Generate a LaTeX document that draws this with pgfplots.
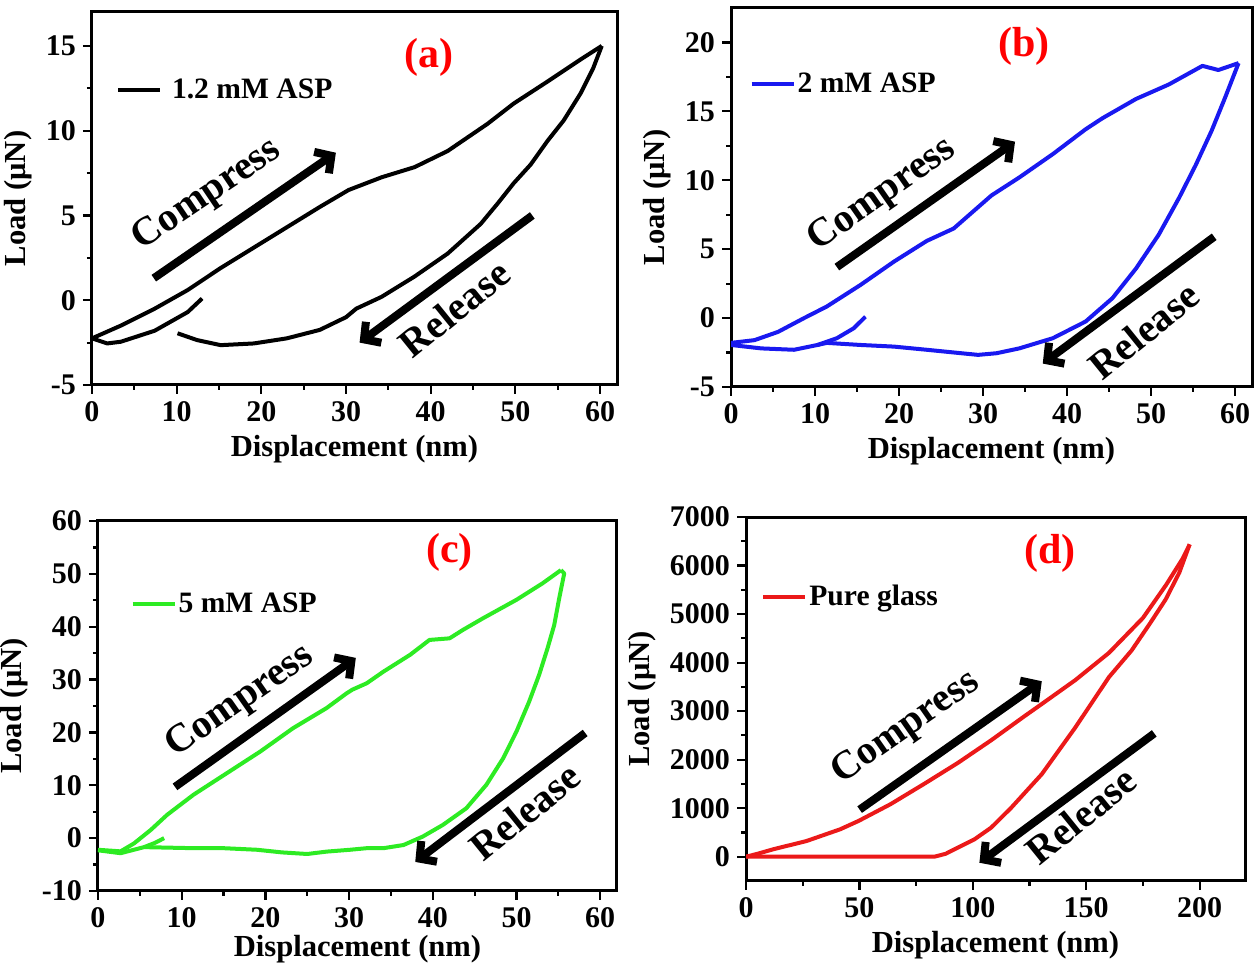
\documentclass[border=0pt]{standalone}
\usepackage{fontspec}
\setmainfont{Liberation Serif}
\usepackage{pgfplots}
\pgfplotsset{compat=1.18}
\usetikzlibrary{arrows.meta}

\definecolor{cblue}{RGB}{25,25,240}
\definecolor{cgreen}{RGB}{45,235,35}
\definecolor{cred}{RGB}{235,25,25}

\tikzset{
  arr/.style={line width=4pt, -{Straight Barb[length=6pt,width=13pt]}},
  lab/.style={font=\fontsize{20}{22}\selectfont\bfseries},
  plab/.style={font=\fontsize{21}{24}\selectfont\bfseries, text=red},
}
\pgfplotsset{
  panel/.style={
    scale only axis,
    axis line style={line width=1.5pt},
    every tick/.style={black, line width=1.1pt},
    tick align=outside,
    xtick pos=bottom, ytick pos=left,
    major tick length=4.5pt,
    minor tick length=2.5pt,
    minor tick num=1,
    tick label style={font=\fontsize{15}{17}\selectfont\bfseries},
    /pgf/number format/assume math mode=true,
    /pgf/number format/1000 sep={},
    scaled ticks=false,
    label style={font=\fontsize{15.3}{17}\selectfont\bfseries},
    xlabel={Displacement (nm)},
    ylabel={Load (μN)},
    legend style={draw=none, fill=none, font=\fontsize{14.8}{17}\selectfont\bfseries,
      anchor=west, inner sep=0pt, nodes={inner sep=1pt}},
    legend image code/.code={\draw[#1, line width=2pt] (0pt,0pt) -- (21pt,0pt);},
    every axis plot/.append style={line width=2pt, line join=round, no markers},
  },
}

\begin{document}
\begin{tikzpicture}
\useasboundingbox (0,0) rectangle (629pt,481.5pt);

% ---------------- (a) ----------------
\begin{axis}[panel, at={(46pt,289pt)}, anchor=south west,
  width=262.5pt, height=186.5pt,
  xmin=0, xmax=62, ymin=-5, ymax=17,
  xtick={0,10,...,60}, ytick={-5,0,5,10,15},
  legend style={at={(0.045,0.79)}},
  legend image code/.code={\draw[#1, line width=2pt] (0pt,0pt) -- (21pt,0pt); \path (25pt,0pt);}]
\addplot[black] coordinates {(0,-2.25) (3.4,-1.5) (7.4,-0.5) (11.3,0.6) (15.2,1.9) (19.1,3.1) (23.0,4.3) (26.9,5.5) (30.3,6.5) (34.2,7.25) (38.1,7.85) (42.0,8.8) (46.7,10.4) (49.8,11.6) (53.8,12.9) (57.7,14.2) (60.2,15.0)};
\addlegendentry{1.2 mM ASP}
\addplot[black, forget plot] coordinates {(60.2,15.0) (59.2,13.7) (57.7,12.2) (55.7,10.6) (53.8,9.4) (51.8,8.0) (49.8,6.9) (47.9,5.7) (45.9,4.5) (42.0,2.75) (38.1,1.4) (34.2,0.2) (31.2,-0.5) (30.0,-1.0) (26.9,-1.75) (23.0,-2.25) (19.1,-2.55) (15.2,-2.65) (12.4,-2.35) (10.1,-1.95)};
\addplot[black, forget plot] coordinates {(13.0,0.1) (11.3,-0.7) (7.4,-1.8) (3.4,-2.45) (1.8,-2.55) (0,-2.25)};
\draw[arr] (axis cs:7.3,1.3) -- (axis cs:28.8,8.7);
\draw[arr] (axis cs:52,5.0) -- (axis cs:31.6,-2.5);
\node[lab, rotate=34] at (axis cs:13.6,6.2) {Compress};
\node[lab, rotate=39] at (axis cs:42.8,-0.5) {Release};
\node[plab] at (axis cs:39.8,14.3) {(a)};
\end{axis}

% ---------------- (b) ----------------
\begin{axis}[panel, at={(365.5pt,288pt)}, anchor=south west,
  width=260.5pt, height=189.5pt,
  xmin=0, xmax=62, ymin=-5, ymax=22.5,
  xtick={0,10,...,60}, ytick={-5,0,5,10,15,20},
  legend style={at={(0.035,0.80)}}]
\addplot[cblue] coordinates {(0,-1.8) (2.8,-1.6) (5.6,-1.0) (8.7,0.0) (11.4,0.84) (15.4,2.4) (19.4,4.1) (23.3,5.6) (26.5,6.5) (31.0,8.9) (34.3,10.2) (38.3,11.9) (42.2,13.7) (44.2,14.5) (48.2,15.9) (52.1,16.95) (56.1,18.3) (58.0,18.0) (60.4,18.5)};
\addlegendentry{2 mM ASP}
\addplot[cblue, forget plot] coordinates {(60.4,18.5) (58.8,16.0) (57.2,13.6) (55.3,11.1) (53.3,8.7) (50.9,6.05) (48.2,3.6) (45.4,1.45) (42.2,-0.25) (38.3,-1.46) (34.3,-2.2) (31.6,-2.55) (29.4,-2.67) (27.4,-2.55) (23.3,-2.3) (19.4,-2.07) (15.4,-1.95) (11.4,-1.8) (10.3,-1.95) (7.5,-2.3) (3.6,-2.2) (0,-1.95)};
\addplot[cblue, forget plot] coordinates {(10.3,-1.95) (12.6,-1.46) (14.6,-0.74) (16.0,0.1)};
\draw[arr] (axis cs:12.6,3.7) -- (axis cs:33.8,12.8);
\draw[arr] (axis cs:57.5,5.9) -- (axis cs:37.1,-3.3);
\node[lab, rotate=35] at (axis cs:18.0,8.9) {Compress};
\node[lab, rotate=39] at (axis cs:49.1,-0.9) {Release};
\node[plab] at (axis cs:34.9,19.7) {(b)};
\end{axis}

% ---------------- (c) ----------------
\begin{axis}[panel, at={(49pt,36pt)}, anchor=south west,
  width=259.5pt, height=185pt,
  xmin=0, xmax=62, ymin=-10, ymax=60,
  xtick={0,10,...,60}, ytick={-10,0,10,...,60},
  xlabel style={yshift=3pt},
  legend style={at={(0.062,0.775)}}]
\addplot[cgreen] coordinates {(0,-2.2) (2.7,-2.5) (4.3,-1.0) (6.3,1.55) (8.25,4.4) (11.4,8.2) (15.4,12.3) (19.4,16.4) (23.3,20.8) (27.3,24.6) (29.7,27.4) (30.4,28.1) (32.1,29.3) (34.1,31.5) (37.3,34.7) (39.6,37.5) (42.0,37.8) (43.6,39.4) (46.0,41.6) (50.0,45.1) (53.1,48.2) (55.3,50.7)};
\addlegendentry{5 mM ASP}
\addplot[cgreen, forget plot] coordinates {(55.3,50.7) (55.7,50.1) (55.1,45.4) (54.5,40.3) (53.7,35.9) (52.7,30.9) (51.5,25.8) (50.0,20.2) (48.4,15.1) (46.4,10.1) (44.0,5.65) (41.2,2.5) (38.8,0.3) (36.5,-1.3) (34.1,-1.9) (32.1,-1.9) (30.1,-2.2) (27.3,-2.55) (25,-3.0) (22,-2.7) (19,-2.2) (15,-1.9) (11.4,-1.9) (5.5,-1.7) (2.7,-2.85) (0,-2.3)};
\addplot[cgreen, forget plot] coordinates {(5.5,-1.7) (6.8,-0.9) (7.9,0.0)};
\draw[arr] (axis cs:9.2,9.7) -- (axis cs:30.8,34.1);
\draw[arr] (axis cs:58.2,19.9) -- (axis cs:37.9,-4.5);
\node[lab, rotate=35] at (axis cs:17.0,25.8) {Compress};
\node[lab, rotate=39] at (axis cs:51,5) {Release};
\node[plab] at (axis cs:42,54) {(c)};
\end{axis}

% ---------------- (d) ----------------
\begin{axis}[panel, at={(373pt,41pt)}, anchor=south west,
  width=249.5pt, height=182pt,
  xmin=0, xmax=220, ymin=-500, ymax=7000,
  xtick={0,50,...,200}, ytick={0,1000,...,7000},
  legend style={at={(0.03,0.78)}}]
\addplot[cred] coordinates {(0,0) (5,60) (11.9,152) (26.7,324) (41.5,565) (49.6,737) (63.7,1082) (78.5,1500) (93.3,1930) (108.1,2400) (122.9,2900) (130.4,3147) (145.2,3640) (160,4200) (175,4920) (185.2,5600) (192.6,6150) (195.6,6436)};
\addlegendentry{Pure glass}
\addplot[cred, forget plot] coordinates {(195.6,6436) (191,5850) (185,5300) (178,4800) (170,4250) (160,3700) (145.2,2664) (130.4,1701) (117,1013) (108.1,600) (100.7,358) (93.3,186) (88,60) (83,0) (0,0)};
\draw[arr] (axis cs:50.1,971) -- (axis cs:130.4,3616);
\draw[arr] (axis cs:180,2541) -- (axis cs:102.9,-124);
\node[lab, rotate=35] at (axis cs:70.5,2650) {Compress};
\node[lab, rotate=39] at (axis cs:147.7,847) {Release};
\node[plab] at (axis cs:134,6260) {(d)};
\end{axis}
\end{tikzpicture}
\end{document}
